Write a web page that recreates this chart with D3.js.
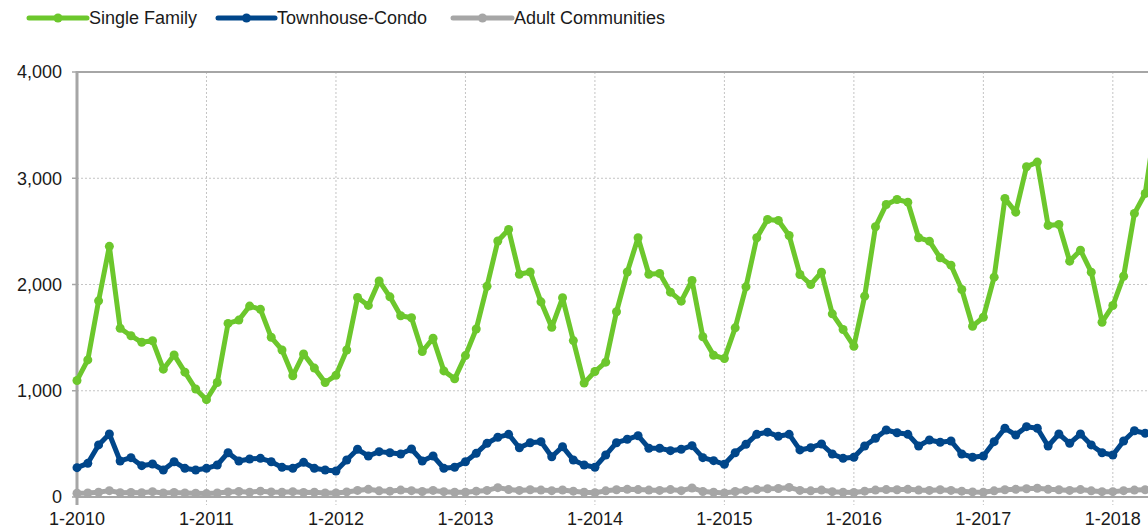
<!DOCTYPE html>
<html>
<head>
<meta charset="utf-8">
<script src="https://cdn.jsdelivr.net/npm/d3@7"></script>
<style>
  html, body { margin: 0; padding: 0; background: #fff; }
  svg { display: block; }
  text { font-family: "Liberation Sans", Arial, Helvetica, sans-serif; fill: #1a1a1a; }
</style>
</head>
<body>
<svg id="chart" width="1148" height="529"></svg>
<script>
// Monthly sales, January 2010 onward (one value per month)
const seriesNames = ["Single Family", "Townhouse-Condo", "Adult Communities"];
const seriesColors = ["#6cc72c", "#00468a", "#a6a6a6"];

const singleFamily = [
  1097, 1290, 1846, 2359, 1588, 1518, 1456, 1471, 1203, 1337, 1175, 1016,
  916, 1078, 1634, 1665, 1797, 1766, 1503, 1384, 1141, 1347, 1213, 1078,
  1145, 1384, 1878, 1803, 2034, 1884, 1706, 1687, 1369, 1494, 1187, 1112,
  1331, 1581, 1984, 2409, 2518, 2097, 2118, 1837, 1597, 1875, 1472, 1072,
  1181, 1269, 1743, 2118, 2440, 2097, 2104, 1928, 1843, 2038, 1508, 1334,
  1303, 1592, 1978, 2440, 2612, 2603, 2461, 2094, 2000, 2116, 1724, 1576,
  1419, 1890, 2543, 2753, 2800, 2775, 2440, 2408, 2251, 2182, 1953, 1607,
  1692, 2069, 2810, 2681, 3108, 3152, 2556, 2565, 2220, 2323, 2116, 1645,
  1802, 2078, 2669, 2857, 3550
];

const townhouseCondo = [
  276, 317, 490, 593, 339, 370, 295, 311, 254, 332, 270, 254,
  270, 301, 417, 339, 358, 364, 332, 279, 270, 326, 270, 254,
  245, 348, 449, 386, 427, 417, 405, 452, 339, 386, 270, 280,
  332, 411, 505, 562, 590, 464, 511, 521, 379, 474, 348, 301,
  280, 395, 511, 543, 577, 459, 459, 436, 449, 483, 370, 342,
  308, 417, 496, 590, 610, 571, 590, 443, 464, 499, 405, 364,
  374, 480, 553, 631, 605, 590, 480, 537, 515, 527, 405, 374,
  386, 521, 647, 584, 662, 647, 480, 593, 505, 593, 490, 417,
  395, 527, 624, 600, 610
];

const adultCommunities = [
  35, 38, 45, 60, 40, 42, 40, 50, 38, 42, 38, 35,
  32, 38, 48, 52, 45, 55, 48, 45, 50, 42, 45, 38,
  38, 48, 62, 72, 58, 55, 65, 60, 52, 62, 50, 45,
  45, 55, 62, 88, 70, 62, 68, 65, 60, 66, 55, 45,
  40, 58, 68, 72, 70, 65, 62, 70, 60, 85, 52, 45,
  38, 52, 62, 70, 78, 80, 90, 62, 58, 65, 50, 45,
  42, 55, 65, 70, 68, 72, 65, 62, 68, 62, 55, 48,
  45, 58, 68, 72, 78, 82, 72, 68, 62, 70, 58, 50,
  50, 60, 65, 68, 70
];

const yTicks = [0, 1000, 2000, 3000, 4000];
const yearLabels = ["1-2010", "1-2011", "1-2012", "1-2013", "1-2014", "1-2015", "1-2016", "1-2017", "1-2018"];

const svg = d3.select("#chart");

const plot = { left: 77, top: 72, bottom: 497 };
const monthWidth = 10.79;

// x: month index from January 2010, evenly spaced like a category axis
const x = d3.scaleLinear().domain([0, 108]).range([plot.left, plot.left + 108 * monthWidth]);
const y = d3.scaleLinear().domain([0, 4000]).range([plot.bottom, plot.top]);
const plotRight = 1148;

const gridColor = "#c4c4c4";
const axisColor = "#a6a6a6";

// horizontal dotted gridlines
svg.append("g")
  .selectAll("line")
  .data(yTicks.filter(d => d > 0 && d < 4000))
  .join("line")
  .attr("x1", plot.left).attr("x2", plotRight)
  .attr("y1", d => y(d)).attr("y2", d => y(d))
  .attr("stroke", gridColor).attr("stroke-width", 1)
  .attr("stroke-dasharray", "2,2");

// vertical dotted gridlines at each January (extend below the axis as ticks)
const yearIdx = yearLabels.map((_, i) => i * 12);
svg.append("g")
  .selectAll("line")
  .data(yearIdx.filter(d => d > 0))
  .join("line")
  .attr("x1", d => x(d)).attr("x2", d => x(d))
  .attr("y1", plot.top).attr("y2", plot.bottom + 8)
  .attr("stroke", gridColor).attr("stroke-width", 1)
  .attr("stroke-dasharray", "2,2");

// frame: top border, left axis, bottom axis
svg.append("line").attr("x1", plot.left).attr("x2", plotRight)
  .attr("y1", plot.top).attr("y2", plot.top)
  .attr("stroke", axisColor).attr("stroke-width", 2);
svg.append("line").attr("x1", plot.left).attr("x2", plotRight)
  .attr("y1", plot.bottom).attr("y2", plot.bottom)
  .attr("stroke", axisColor).attr("stroke-width", 2);
svg.append("line").attr("x1", plot.left).attr("x2", plot.left)
  .attr("y1", plot.top - 1).attr("y2", plot.bottom + 8)
  .attr("stroke", axisColor).attr("stroke-width", 3);

// y axis ticks and labels
const yAxis = svg.append("g");
yAxis.selectAll("line")
  .data(yTicks)
  .join("line")
  .attr("x1", plot.left - 5).attr("x2", plot.left)
  .attr("y1", d => y(d)).attr("y2", d => y(d))
  .attr("stroke", axisColor).attr("stroke-width", 1.5);
yAxis.selectAll("text")
  .data(yTicks)
  .join("text")
  .attr("x", 62)
  .attr("y", d => y(d))
  .attr("dy", "0.35em")
  .attr("text-anchor", "end")
  .attr("font-size", 18)
  .text(d => d3.format(",")(d));

// x axis labels
svg.append("g")
  .selectAll("text")
  .data(yearLabels)
  .join("text")
  .attr("x", (d, i) => x(i * 12))
  .attr("y", 525)
  .attr("text-anchor", "middle")
  .attr("font-size", 18)
  .text(d => d);

// series lines with markers
const allSeries = [singleFamily, townhouseCondo, adultCommunities];
const line = d3.line().x((d, i) => x(i)).y(d => y(d));

allSeries.forEach((values, s) => {
  const g = svg.append("g");
  g.append("path")
    .datum(values)
    .attr("d", line)
    .attr("fill", "none")
    .attr("stroke", seriesColors[s])
    .attr("stroke-width", 5)
    .attr("stroke-linejoin", "round")
    .attr("stroke-linecap", "round");
  g.selectAll("circle")
    .data(values)
    .join("circle")
    .attr("cx", (d, i) => x(i))
    .attr("cy", d => y(d))
    .attr("r", 4.5)
    .attr("fill", seriesColors[s]);
});

// legend
const legendItems = [
  { x1: 29, x2: 87, tx: 89 },
  { x1: 218, x2: 275, tx: 277 },
  { x1: 453, x2: 512, tx: 514 }
];
const legend = svg.append("g");
legendItems.forEach((it, s) => {
  legend.append("line")
    .attr("x1", it.x1).attr("x2", it.x2)
    .attr("y1", 18).attr("y2", 18)
    .attr("stroke", seriesColors[s]).attr("stroke-width", 5)
    .attr("stroke-linecap", "round");
  legend.append("circle")
    .attr("cx", (it.x1 + it.x2) / 2).attr("cy", 18).attr("r", 4.5)
    .attr("fill", seriesColors[s]);
  legend.append("text")
    .attr("x", it.tx).attr("y", 18).attr("dy", "0.35em")
    .attr("font-size", 18)
    .text(seriesNames[s]);
});
</script>
</body>
</html>
